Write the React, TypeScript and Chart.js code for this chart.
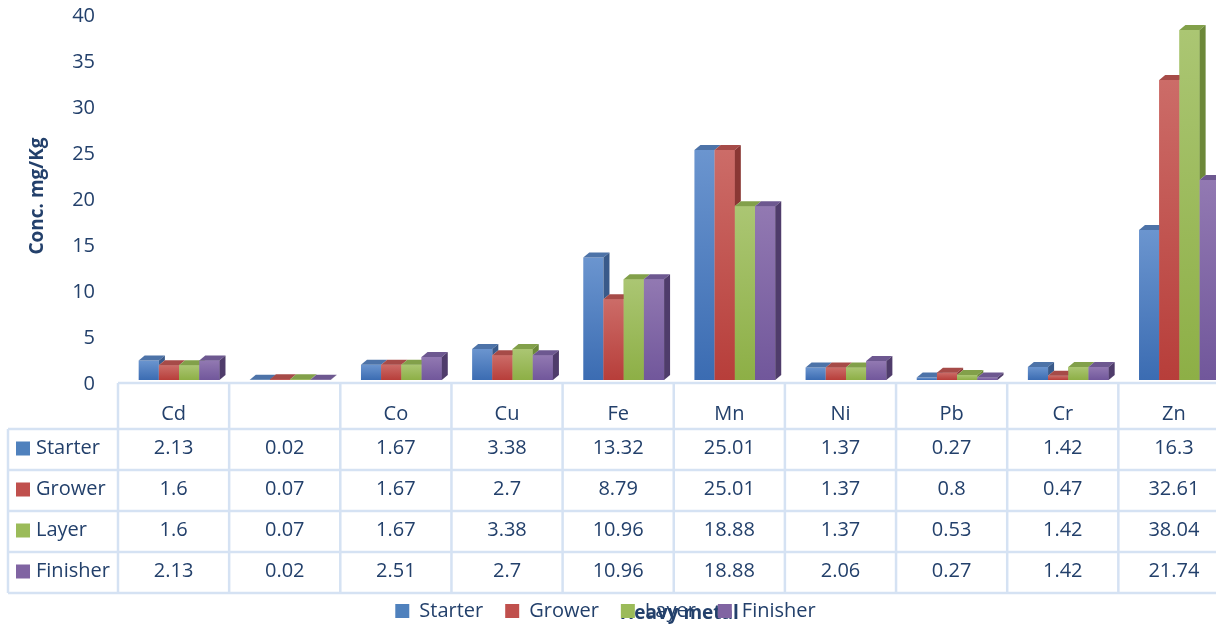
import React, { useEffect, useRef } from 'react';
import { Chart, registerables } from 'chart.js';

Chart.register(...registerables);

// ---------- data ----------
const categories = ['Cd', '', 'Co', 'Cu', 'Fe', 'Mn', 'Ni', 'Pb', 'Cr', 'Zn'];
const seriesNames = ['Starter', 'Grower', 'Layer', 'Finisher'];
const starter = [2.13, 0.02, 1.67, 3.38, 13.32, 25.01, 1.37, 0.27, 1.42, 16.3];
const grower = [1.6, 0.07, 1.67, 2.7, 8.79, 25.01, 1.37, 0.8, 0.47, 32.61];
const layer = [1.6, 0.07, 1.67, 3.38, 10.96, 18.88, 1.37, 0.53, 1.42, 38.04];
const finisher = [2.13, 0.02, 2.51, 2.7, 10.96, 18.88, 2.06, 0.27, 1.42, 21.74];
const seriesValues = [starter, grower, layer, finisher];
const yMin = 0;
const yMax = 40;
const yStep = 5;
const yTitle = 'Conc. mg/Kg';
const xTitle = 'Heavy metal';

// ---------- styles ----------
const baseColors = ['#4f81bd', '#c0504d', '#9bbb59', '#8064a2'];
const lightColors = ['#6b95cf', '#cc6c68', '#abc673', '#9279b2'];
const darkColors = ['#3b6cb2', '#b73e3a', '#8daf46', '#71579b'];
const topColors = ['#4d73a8', '#a64b48', '#82a04a', '#6d5890'];
const sideColors = ['#395a8a', '#8a3734', '#6c8839', '#4f3c6b'];
const TEXT = '#23406b';
const LINE = '#d5e2f3';
const FONT = "'Open Sans', sans-serif";
const DX = 6;
const DY = -5;
const SHIFT = 5.5;

function poly(ctx: CanvasRenderingContext2D, pts: number[][], color: string) {
  ctx.beginPath();
  ctx.moveTo(pts[0][0], pts[0][1]);
  for (let k = 1; k < pts.length; k++) ctx.lineTo(pts[k][0], pts[k][1]);
  ctx.closePath();
  ctx.fillStyle = color;
  ctx.fill();
}

const bar3d = {
  id: 'bar3d',
  afterDatasetsDraw(chart: any) {
    const ctx: CanvasRenderingContext2D = chart.ctx;
    const metas = seriesValues.map((_, i) => chart.getDatasetMeta(i));
    ctx.save();
    for (let c = 0; c < categories.length; c++) {
      for (let i = 0; i < metas.length; i++) {
        const el: any = metas[i].data[c];
        if (!el) continue;
        const { x, y, base, width } = el.getProps(['x', 'y', 'base', 'width'], true);
        const l = x - width / 2;
        const r = x + width / 2;
        poly(ctx, [[l, y], [r, y], [r + DX, y + DY], [l + DX, y + DY]], topColors[i]);
        let bottom = base;
        const next: any = i < metas.length - 1 ? metas[i + 1].data[c] : null;
        if (next) bottom = Math.min(base, next.getProps(['y'], true).y);
        if (bottom > y) {
          poly(ctx, [[r, y], [r + DX, y + DY], [r + DX, bottom + DY], [r, bottom]], sideColors[i]);
        }
        if (next) next.draw(ctx);
      }
    }
    ctx.restore();
  },
};

const dataTable = {
  id: 'dataTable',
  afterDraw(chart: any) {
    const ctx: CanvasRenderingContext2D = chart.ctx;
    const xs = chart.scales.x;
    const n = categories.length;
    const bounds: number[] = [];
    for (let k = 0; k <= n; k++) bounds.push(xs.getPixelForValue(k - 0.5) - SHIFT);
    const headTop = 383;
    const rows = [429, 470, 511, 552, 593];
    const tableLeft = 8;
    const right = bounds[n];
    ctx.save();
    ctx.strokeStyle = LINE;
    ctx.lineWidth = 2.5;
    ctx.beginPath();
    ctx.moveTo(bounds[0], headTop);
    ctx.lineTo(right, headTop);
    rows.forEach((ry) => {
      ctx.moveTo(tableLeft, ry);
      ctx.lineTo(right, ry);
    });
    ctx.moveTo(tableLeft, rows[0]);
    ctx.lineTo(tableLeft, rows[rows.length - 1]);
    bounds.forEach((bx) => {
      ctx.moveTo(bx, headTop);
      ctx.lineTo(bx, rows[rows.length - 1]);
    });
    ctx.stroke();

    ctx.fillStyle = TEXT;
    ctx.font = `20px ${FONT}`;
    ctx.textAlign = 'center';
    ctx.textBaseline = 'middle';
    for (let k = 0; k < n; k++) {
      const cx = (bounds[k] + bounds[k + 1]) / 2;
      ctx.fillText(categories[k], cx, 414);
      for (let s = 0; s < seriesValues.length; s++) {
        const cy = (rows[s] + rows[s + 1]) / 2 - 1;
        ctx.fillText(String(seriesValues[s][k]), cx, cy);
      }
    }
    ctx.textAlign = 'left';
    for (let s = 0; s < seriesNames.length; s++) {
      const cy = (rows[s] + rows[s + 1]) / 2 - 1;
      ctx.fillStyle = baseColors[s];
      ctx.fillRect(16, cy - 7, 14, 14);
      ctx.fillStyle = TEXT;
      ctx.fillText(seriesNames[s], 36, cy);
    }
    ctx.restore();
  },
};

export default function App() {
  const ref = useRef<HTMLCanvasElement | null>(null);

  useEffect(() => {
    if (!ref.current) return;
    const datasets = seriesValues.map((vals, i) => ({
      label: seriesNames[i],
      data: vals,
      borderWidth: 0,
      categoryPercentage: 0.727,
      barPercentage: 1.0,
      backgroundColor: (c: any) => {
        const chart = c.chart;
        const ys = chart.scales && chart.scales.y;
        if (!chart.chartArea || !ys || c.type !== 'data') return baseColors[i];
        const top = ys.getPixelForValue(c.raw as number);
        const bot = ys.getPixelForValue(0);
        if (!isFinite(top) || !isFinite(bot) || bot - top < 1) return baseColors[i];
        const g = chart.ctx.createLinearGradient(0, top, 0, bot);
        g.addColorStop(0, lightColors[i]);
        g.addColorStop(1, darkColors[i]);
        return g;
      },
    }));

    const chart = new Chart(ref.current, {
      type: 'bar',
      data: { labels: categories, datasets },
      plugins: [bar3d, dataTable],
      options: {
        responsive: false,
        animation: false,
        devicePixelRatio: 1,
        layout: { padding: { left: -24, right: 0, top: 0, bottom: -5 } },
        plugins: {
          tooltip: { enabled: false },
          legend: {
            position: 'bottom',
            labels: {
              color: TEXT,
              font: { family: FONT, size: 20 },
              boxWidth: 14,
              boxHeight: 14,
              padding: 22,
              generateLabels: () =>
                seriesNames.map((s, i) => ({
                  text: s,
                  fillStyle: baseColors[i],
                  strokeStyle: baseColors[i],
                  lineWidth: 0,
                  hidden: false,
                  datasetIndex: i,
                  fontColor: TEXT,
                })),
            },
          },
        },
        scales: {
          x: {
            grid: { display: false, drawTicks: false },
            border: { display: false },
            ticks: { display: false },
            title: {
              display: true,
              text: xTitle,
              color: TEXT,
              font: { family: FONT, size: 19, weight: 'bold' },
              padding: { top: 0, bottom: -46.4 },
            },
            afterFit: (s: any) => {
              s.height = 199;
            },
          },
          y: {
            min: yMin,
            max: yMax,
            grid: { display: false, drawTicks: true, tickLength: 28.5 },
            border: { display: false },
            ticks: {
              stepSize: yStep,
              color: TEXT,
              font: { family: FONT, size: 20 },
              padding: 0,
              labelOffset: 4.5,
            },
            title: {
              display: true,
              text: yTitle,
              color: TEXT,
              font: { family: FONT, size: 19, weight: 'bold' },
              padding: { top: 50.6, bottom: 0 },
            },
            afterFit: (s: any) => {
              s.width = 147.5;
            },
          },
        },
      } as any,
    });
    return () => chart.destroy();
  }, []);

  return (
    <div style={{ position: 'fixed', left: 0, top: 0, width: 1216, height: 626, overflow: 'hidden', background: '#fff' }}>
      <canvas ref={ref} width={1235} height={626} style={{ display: 'block', width: 1235, height: 626 }} />
    </div>
  );
}
